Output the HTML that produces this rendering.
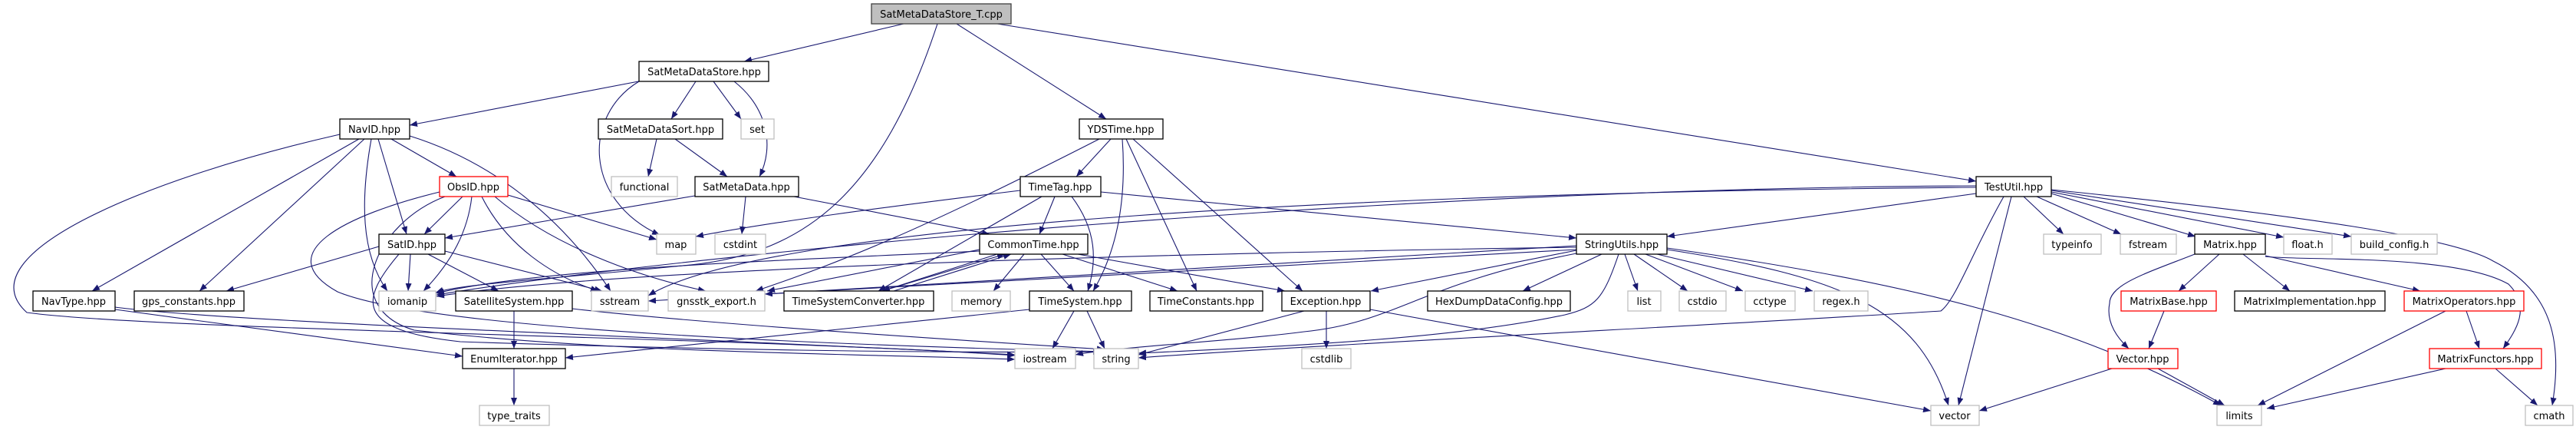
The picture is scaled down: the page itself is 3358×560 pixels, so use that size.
<!DOCTYPE html>
<html><head><meta charset="utf-8"><style>
html,body{margin:0;padding:0;background:#fff;}
svg{display:block;}
text{font-family:"DejaVu Sans","Liberation Sans",sans-serif;font-size:13px;fill:#000;text-anchor:middle;}
.n{fill:#fff;stroke:#000;stroke-width:1.3;}
.g{fill:#fff;stroke:#bfbfbf;stroke-width:1.3;}
.r{fill:#fff;stroke:#ff0000;stroke-width:1.3;}
.e{fill:none;stroke:#191970;stroke-width:1.1;marker-end:url(#a);}
</style></head><body>
<svg width="3358" height="560" viewBox="0 0 3358 560" xmlns="http://www.w3.org/2000/svg">
<defs><marker id="a" markerUnits="userSpaceOnUse" markerWidth="11" markerHeight="8" refX="10" refY="4" orient="auto"><path d="M0,0 L10,4 L0,8 z" fill="#191970"/></marker></defs>
<g>
<path class="e" d="M1178,31 L970,80"/>
<path class="e" d="M1247,31 L1442,155"/>
<path class="e" d="M1300,31 L2576,236"/>
<path class="e" d="M1222,31 C1150,250 1050,330 900,345 C700,365 600,370 568,381"/>
<path class="e" d="M848,103 L534,163"/>
<path class="e" d="M907,106 L875,155"/>
<path class="e" d="M930,106 L966,155"/>
<path class="e" d="M957,106 C1000,140 1010,190 990,230"/>
<path class="e" d="M833,106 C760,150 760,260 860,306"/>
<path class="e" d="M856,181 L845,230"/>
<path class="e" d="M880,181 L948,230"/>
<path class="e" d="M906,255 L580,310"/>
<path class="e" d="M972,256 L967,305"/>
<path class="e" d="M1035,256 L1290,305"/>
<path class="e" d="M468,181 L120,379"/>
<path class="e" d="M475,181 L260,379"/>
<path class="e" d="M484,181 C470,260 470,330 505,379"/>
<path class="e" d="M493,181 L530,305"/>
<path class="e" d="M510,181 L595,230"/>
<path class="e" d="M534,177 C640,210 730,280 796,379"/>
<path class="e" d="M443,175 C200,230 -50,330 35,407 C200,430 1000,440 1323,463"/>
<path class="e" d="M603,256 L553,305"/>
<path class="e" d="M615,256 C610,300 590,340 552,379"/>
<path class="e" d="M628,256 C660,320 720,360 780,379"/>
<path class="e" d="M662,254 L856,312"/>
<path class="e" d="M645,256 C720,320 830,360 920,379"/>
<path class="e" d="M573,250 C450,280 350,330 440,380 C560,430 1100,450 1440,458"/>
<path class="e" d="M580,256 C490,290 440,400 540,430 C800,460 1100,460 1323,468"/>
<path class="e" d="M494,321 L295,379"/>
<path class="e" d="M535,331 L532,379"/>
<path class="e" d="M558,331 L650,379"/>
<path class="e" d="M580,327 L785,379"/>
<path class="e" d="M520,331 C470,390 460,430 600,445 C900,455 1200,460 1435,458"/>
<path class="e" d="M150,403 L603,464"/>
<path class="e" d="M150,400 C300,420 900,440 1323,462"/>
<path class="e" d="M670,405 L670,454"/>
<path class="e" d="M746,402 C900,420 1200,440 1440,455"/>
<path class="e" d="M670,480 L670,528"/>
<path class="e" d="M1448,181 L1403,230"/>
<path class="e" d="M1433,181 C1200,300 1100,340 985,379"/>
<path class="e" d="M1463,181 C1468,250 1460,320 1425,379"/>
<path class="e" d="M1468,181 L1560,379"/>
<path class="e" d="M1477,181 L1698,379"/>
<path class="e" d="M1330,248 C1150,270 1000,290 907,308"/>
<path class="e" d="M1358,256 L1145,379"/>
<path class="e" d="M1375,256 L1355,305"/>
<path class="e" d="M1397,256 C1430,300 1430,340 1418,379"/>
<path class="e" d="M1435,250 L2055,310"/>
<path class="e" d="M1300,331 L1150,379"/>
<path class="e" d="M1150,379 L1310,331"/>
<path class="e" d="M1165,379 L1318,331"/>
<path class="e" d="M1335,331 L1295,379"/>
<path class="e" d="M1357,331 L1400,379"/>
<path class="e" d="M1385,331 L1535,379"/>
<path class="e" d="M1405,331 L1675,379"/>
<path class="e" d="M1277,325 L1000,379"/>
<path class="e" d="M1277,327 C1000,340 700,350 569,382"/>
<path class="e" d="M1400,405 L1372,454"/>
<path class="e" d="M1417,405 L1440,454"/>
<path class="e" d="M1342,403 C1100,430 900,450 737,466"/>
<path class="e" d="M1729,405 L1729,454"/>
<path class="e" d="M1700,405 L1484,462"/>
<path class="e" d="M1786,403 L2517,535"/>
<path class="e" d="M2055,326 L1787,379"/>
<path class="e" d="M2088,331 L1985,379"/>
<path class="e" d="M2118,331 L2135,379"/>
<path class="e" d="M2130,331 L2200,379"/>
<path class="e" d="M2145,331 L2272,379"/>
<path class="e" d="M2160,331 L2363,379"/>
<path class="e" d="M2110,331 C2090,390 2080,400 2040,410 C1900,440 1700,450 1484,460"/>
<path class="e" d="M2055,330 C1850,370 1820,420 1700,432 C1600,445 1450,452 1402,462"/>
<path class="e" d="M2055,320 L845,392"/>
<path class="e" d="M2055,322 C1500,330 800,350 569,386"/>
<path class="e" d="M2055,325 L997,383"/>
<path class="e" d="M2173,325 C2400,360 2500,400 2540,528"/>
<path class="e" d="M2173,323 C2500,370 2700,420 2895,528"/>
<path class="e" d="M2638,256 L2690,305"/>
<path class="e" d="M2655,256 L2765,305"/>
<path class="e" d="M2674,252 L2862,308"/>
<path class="e" d="M2674,250 L2977,309"/>
<path class="e" d="M2674,248 L3065,308"/>
<path class="e" d="M2674,247 C3000,280 3200,310 3250,340 C3330,380 3340,450 3327,528"/>
<path class="e" d="M2622,256 L2553,528"/>
<path class="e" d="M2576,252 L2173,308"/>
<path class="e" d="M2576,244 C1800,250 1000,290 845,385"/>
<path class="e" d="M2576,242 C1800,245 900,330 569,384"/>
<path class="e" d="M2612,256 C2570,330 2550,390 2530,405 C2300,420 1700,450 1484,466"/>
<path class="e" d="M2893,331 L2840,379"/>
<path class="e" d="M2924,331 L2985,379"/>
<path class="e" d="M2953,333 L3155,379"/>
<path class="e" d="M2861,331 C2800,355 2750,370 2750,395 C2745,420 2760,440 2775,454"/>
<path class="e" d="M2953,334 C3000,340 3200,330 3270,370 C3300,400 3280,430 3263,454"/>
<path class="e" d="M2821,405 L2801,454"/>
<path class="e" d="M3188,405 L2943,528"/>
<path class="e" d="M3215,405 L3232,454"/>
<path class="e" d="M2753,480 L2580,535"/>
<path class="e" d="M2813,480 L2900,528"/>
<path class="e" d="M3188,480 L2955,532"/>
<path class="e" d="M3253,480 L3308,528"/>
</g>
<g>
<rect x="1136" y="5" width="182" height="26" fill="#bfbfbf" stroke="#404040" stroke-width="1.3"/><text x="1227" y="23">SatMetaDataStore_T.cpp</text>
<rect class="n" x="833" y="80" width="169" height="26"/><text x="918" y="98">SatMetaDataStore.hpp</text>
<rect class="n" x="443" y="155" width="91" height="26"/><text x="488" y="173">NavID.hpp</text>
<rect class="n" x="780" y="155" width="162" height="26"/><text x="861" y="173">SatMetaDataSort.hpp</text>
<rect class="g" x="966" y="155" width="43" height="26"/><text x="987" y="173">set</text>
<rect class="n" x="1407" y="155" width="109" height="26"/><text x="1461" y="173">YDSTime.hpp</text>
<rect class="r" x="573" y="230" width="89" height="26"/><text x="617" y="248">ObsID.hpp</text>
<rect class="g" x="797" y="230" width="86" height="26"/><text x="840" y="248">functional</text>
<rect class="n" x="906" y="230" width="135" height="26"/><text x="973" y="248">SatMetaData.hpp</text>
<rect class="n" x="1330" y="230" width="105" height="26"/><text x="1382" y="248">TimeTag.hpp</text>
<rect class="n" x="2576" y="230" width="98" height="26"/><text x="2625" y="248">TestUtil.hpp</text>
<rect class="n" x="494" y="305" width="86" height="26"/><text x="537" y="323">SatID.hpp</text>
<rect class="g" x="856" y="305" width="51" height="26"/><text x="881" y="323">map</text>
<rect class="g" x="932" y="305" width="66" height="26"/><text x="965" y="323">cstdint</text>
<rect class="n" x="1277" y="305" width="141" height="26"/><text x="1347" y="323">CommonTime.hpp</text>
<rect class="n" x="2055" y="305" width="118" height="26"/><text x="2114" y="323">StringUtils.hpp</text>
<rect class="g" x="2664" y="305" width="75" height="26"/><text x="2701" y="323">typeinfo</text>
<rect class="g" x="2764" y="305" width="73" height="26"/><text x="2800" y="323">fstream</text>
<rect class="n" x="2861" y="305" width="92" height="26"/><text x="2907" y="323">Matrix.hpp</text>
<rect class="g" x="2977" y="305" width="63" height="26"/><text x="3008" y="323">float.h</text>
<rect class="g" x="3065" y="305" width="112" height="26"/><text x="3121" y="323">build_config.h</text>
<rect class="n" x="43" y="379" width="107" height="26"/><text x="96" y="397">NavType.hpp</text>
<rect class="n" x="175" y="379" width="143" height="26"/><text x="246" y="397">gps_constants.hpp</text>
<rect class="g" x="494" y="379" width="74" height="26"/><text x="531" y="397">iomanip</text>
<rect class="n" x="594" y="379" width="152" height="26"/><text x="670" y="397">SatelliteSystem.hpp</text>
<rect class="g" x="771" y="379" width="74" height="26"/><text x="808" y="397">sstream</text>
<rect class="g" x="871" y="379" width="126" height="26"/><text x="934" y="397">gnsstk_export.h</text>
<rect class="n" x="1022" y="379" width="195" height="26"/><text x="1119" y="397">TimeSystemConverter.hpp</text>
<rect class="g" x="1241" y="379" width="76" height="26"/><text x="1279" y="397">memory</text>
<rect class="n" x="1342" y="379" width="133" height="26"/><text x="1408" y="397">TimeSystem.hpp</text>
<rect class="n" x="1499" y="379" width="147" height="26"/><text x="1572" y="397">TimeConstants.hpp</text>
<rect class="n" x="1671" y="379" width="115" height="26"/><text x="1728" y="397">Exception.hpp</text>
<rect class="n" x="1861" y="379" width="186" height="26"/><text x="1954" y="397">HexDumpDataConfig.hpp</text>
<rect class="g" x="2122" y="379" width="43" height="26"/><text x="2143" y="397">list</text>
<rect class="g" x="2189" y="379" width="61" height="26"/><text x="2219" y="397">cstdio</text>
<rect class="g" x="2275" y="379" width="65" height="26"/><text x="2307" y="397">cctype</text>
<rect class="g" x="2365" y="379" width="70" height="26"/><text x="2400" y="397">regex.h</text>
<rect class="r" x="2765" y="379" width="124" height="26"/><text x="2827" y="397">MatrixBase.hpp</text>
<rect class="n" x="2913" y="379" width="196" height="26"/><text x="3011" y="397">MatrixImplementation.hpp</text>
<rect class="r" x="3134" y="379" width="156" height="26"/><text x="3212" y="397">MatrixOperators.hpp</text>
<rect class="n" x="603" y="454" width="134" height="26"/><text x="670" y="472">EnumIterator.hpp</text>
<rect class="g" x="1323" y="454" width="79" height="26"/><text x="1362" y="472">iostream</text>
<rect class="g" x="1426" y="454" width="58" height="26"/><text x="1455" y="472">string</text>
<rect class="g" x="1697" y="454" width="64" height="26"/><text x="1729" y="472">cstdlib</text>
<rect class="r" x="2748" y="454" width="91" height="26"/><text x="2793" y="472">Vector.hpp</text>
<rect class="r" x="3167" y="454" width="146" height="26"/><text x="3240" y="472">MatrixFunctors.hpp</text>
<rect class="g" x="625" y="528" width="91" height="26"/><text x="670" y="546">type_traits</text>
<rect class="g" x="2517" y="528" width="63" height="26"/><text x="2548" y="546">vector</text>
<rect class="g" x="2890" y="528" width="58" height="26"/><text x="2919" y="546">limits</text>
<rect class="g" x="3292" y="528" width="62" height="26"/><text x="3323" y="546">cmath</text>
</g>
</svg>
</body></html>
